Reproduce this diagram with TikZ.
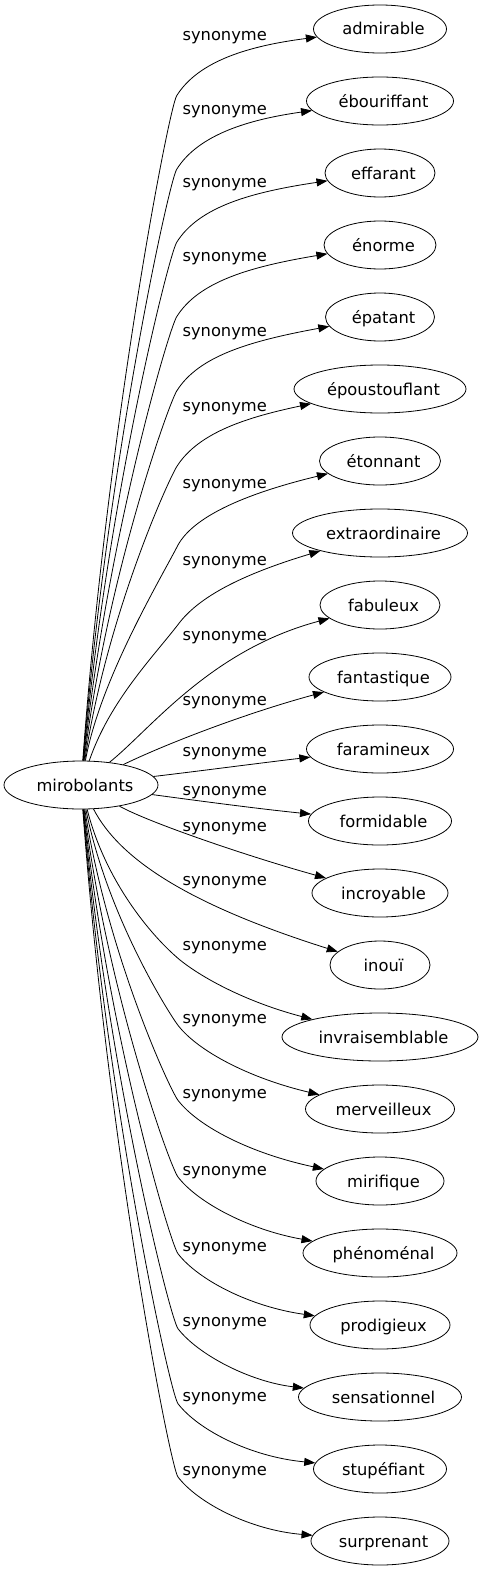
\documentclass[tikz,border=0pt]{standalone}
\usepackage{fontspec}
\setmainfont{DejaVu Sans}
\usetikzlibrary{arrows.meta,shapes.geometric}
\begin{document}
\begin{tikzpicture}[x=1pt,y=-1pt,
  every node/.style={font=\fontsize{16.3pt}{19pt}\selectfont},
  wnode/.style={draw, ellipse, line width=0.8pt, minimum width=100pt, minimum height=48pt,
    inner xsep=0pt, inner ysep=0pt, text height=14pt, text depth=2pt},
  lab/.style={anchor=base, inner sep=0pt},
  edge/.style={draw, line width=0.8pt, -{Triangle[length=11pt,width=8pt]}}]
\useasboundingbox (0,0) rectangle (482,1571);
\node[wnode, minimum width=154pt] (m) at (81,785) {\hspace*{8pt}mirobolants};
\foreach \i/\w/\W in {1/admirable/133, 2/ébouriffant/147, 3/effarant/110, 4/énorme/112,
  5/épatant/109, 6/époustouflant/172, 7/étonnant/121, 8/extraordinaire/175,
  9/fabuleux/120, 10/fantastique/142, 11/faramineux/147, 12/formidable/143,
  13/incroyable/136, 14/inouï/100, 15/invraisemblable/196, 16/merveilleux/149,
  17/mirifique/128, 18/phénoménal/154, 19/prodigieux/140, 20/sensationnel/163,
  21/stupéfiant/133, 22/surprenant/138}
  \node[wnode, minimum width=\W pt] (t\i) at (380,{29+72*(\i-1)}) {\hspace*{7pt}\w};
\foreach \i/\B in {1/40.7, 2/114.3, 3/187.3, 4/261.7, 5/336, 6/411.7, 7/488.3,
  8/565, 9/640, 10/705, 11/756.7, 12/795, 13/831.7, 14/885, 15/950.7,
  16/1023.3, 17/1098.3, 18/1175, 19/1251.7, 20/1326.7, 21/1401.7, 22/1475}
  \node[lab] (l\i) at (224.7,\B) {synonyme};
% upper edges
\foreach \i/\B in {1/40.7, 2/114.3, 3/187.3, 4/261.7, 5/336, 6/411.7}
  \draw[edge] (m) .. controls (107.2,{408+0.5*\B}) and (168.7,{\B+67.8}) .. (176.7,{\B+55})
    .. controls (198.7,{\B+19.8}) and (250,{\B+5}) .. (t\i);
\draw[edge] (m) .. controls (100,680) and (160,580) .. (178,545)
    .. controls (193,518) and (240,495) .. (t7);
\draw[edge] (m) .. controls (110,700) and (155,655) .. (180,622)
    .. controls (200,597) and (240,575) .. (t8);
\draw[edge] (m) .. controls (150,730) and (210,650) .. (t9);
\draw[edge] (m) .. controls (170,742) and (250,712) .. (t10);
\draw[edge] (m) .. controls (200,771) and (260,763) .. (t11);
\draw[edge] (m) .. controls (200,801) and (260,809) .. (t12);
\draw[edge] (m) .. controls (150,823) and (250,857) .. (t13);
% lower edges
\draw[edge] (m) .. controls (120,860) and (190,905) .. (t14);
\draw[edge] (m) .. controls (105,880) and (150,935) .. (180,960)
    .. controls (205,980) and (250,1003) .. (t15);
\foreach \i/\B in {16/1023.3, 17/1098.3, 18/1175, 19/1251.7, 20/1326.7, 21/1401.7, 22/1475}
  \draw[edge] (m) .. controls (107.5,{405.5+0.5*\B}) and (170,{\B-8.4}) .. (178,{\B+2})
    .. controls (198,{\B+28}) and (250,{\B+55}) .. (t\i);
\end{tikzpicture}
\end{document}
